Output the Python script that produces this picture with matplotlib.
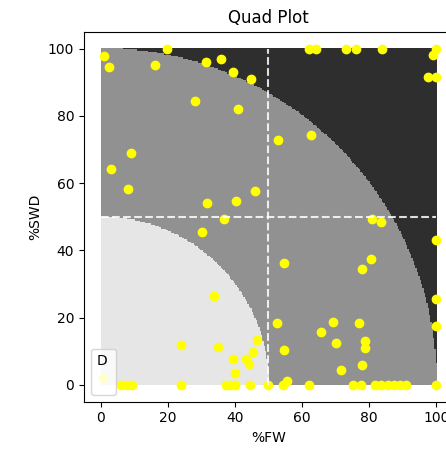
import matplotlib
matplotlib.use("Agg")
import matplotlib.pyplot as plt
import numpy as np
from matplotlib.colors import ListedColormap
from matplotlib.lines import Line2D

# scatter data (%FW, %SWD)
fw = [
    1.0, 2.5, 19.8, 16.2, 31.3, 35.8, 39.3, 44.9, 28.2, 41.0, 52.8, 8.9, 3.0,
    8.0, 46.0, 40.4, 31.8, 36.7, 30.3,
    62.1, 64.3, 73.2, 76.0, 83.9, 99.8, 99.0, 97.5, 100.0, 62.6, 80.8, 83.4,
    100.0, 54.6, 80.5, 78.0, 100.0, 100.0, 52.6, 69.2, 76.9, 65.8, 70.2, 78.9,
    78.9, 54.6, 77.9, 71.7, 55.6,
    33.8, 23.8, 35.0, 46.6, 45.4, 43.4, 44.1, 39.4, 39.9, 0.7,
    6.0, 7.7, 9.3, 23.8, 37.2, 38.6, 39.9, 44.4, 50.0, 54.3, 62.2, 75.2, 77.6,
    81.6, 83.6, 85.6, 87.4, 89.2, 91.0, 100.0,
]
swd = [
    97.7, 94.4, 100.0, 95.2, 96.0, 97.0, 93.1, 91.0, 84.4, 82.0, 72.9, 68.8, 64.2,
    58.3, 57.7, 54.6, 54.2, 49.2, 45.5,
    100.0, 100.0, 100.0, 100.0, 100.0, 100.0, 98.2, 91.5, 91.5, 74.3, 49.2, 48.4,
    43.0, 36.1, 37.5, 34.5, 25.6, 17.4, 18.3, 18.7, 18.4, 15.8, 12.5, 13.0,
    11.0, 10.3, 5.8, 4.3, 1.2,
    26.3, 11.8, 11.3, 13.3, 9.8, 7.7, 6.2, 7.7, 3.6, 2.0,
    0, 0, 0, 0, 0, 0, 0, 0, 0, 0, 0, 0, 0,
    0, 0, 0, 0, 0, 0, 0,
]

# quadrant background zones
inner_radius = 50
outer_radius = 100
split = 50
zone_colors = ["#e6e6e6", "#919191", "#2e2e2e"]

fig = plt.figure(figsize=(4.46, 4.55), dpi=100)
ax = fig.add_axes([0.1883, 0.1171, 0.8274, 0.8132])

n = 250
cells = (np.arange(n) + 0.5) * 100 / n
gx, gy = np.meshgrid(cells, cells)
dist = np.hypot(gx, gy)
zone = np.where(dist < inner_radius, 0, np.where(dist < outer_radius, 1, 2))
ax.imshow(zone, origin="lower", extent=[0, 100, 0, 100], aspect="auto",
          cmap=ListedColormap(zone_colors), vmin=-0.5, vmax=2.5,
          interpolation="nearest", zorder=0)

ax.scatter(fw, swd, color="yellow", zorder=2)

ax.plot([split, split], [0, 100], color="white", alpha=0.85, ls="--", lw=1.5, zorder=3)
ax.plot([0, 100], [split, split], color="white", alpha=0.85, ls="--", lw=1.5, zorder=3)

ax.set_xlim(-5, 105)
ax.set_ylim(-5, 105)
ax.set_xticks([0, 20, 40, 60, 80, 100])
ax.set_yticks([0, 20, 40, 60, 80, 100])
ax.set_title("Quad Plot")
ax.set_xlabel("%FW")
ax.set_ylabel("%SWD")

ax.legend(handles=[Line2D([], [], ls="none")], labels=[""], title="D",
          loc="lower left", alignment="left", handlelength=1.0, handletextpad=0)

fig.savefig("out.png", dpi=100)
